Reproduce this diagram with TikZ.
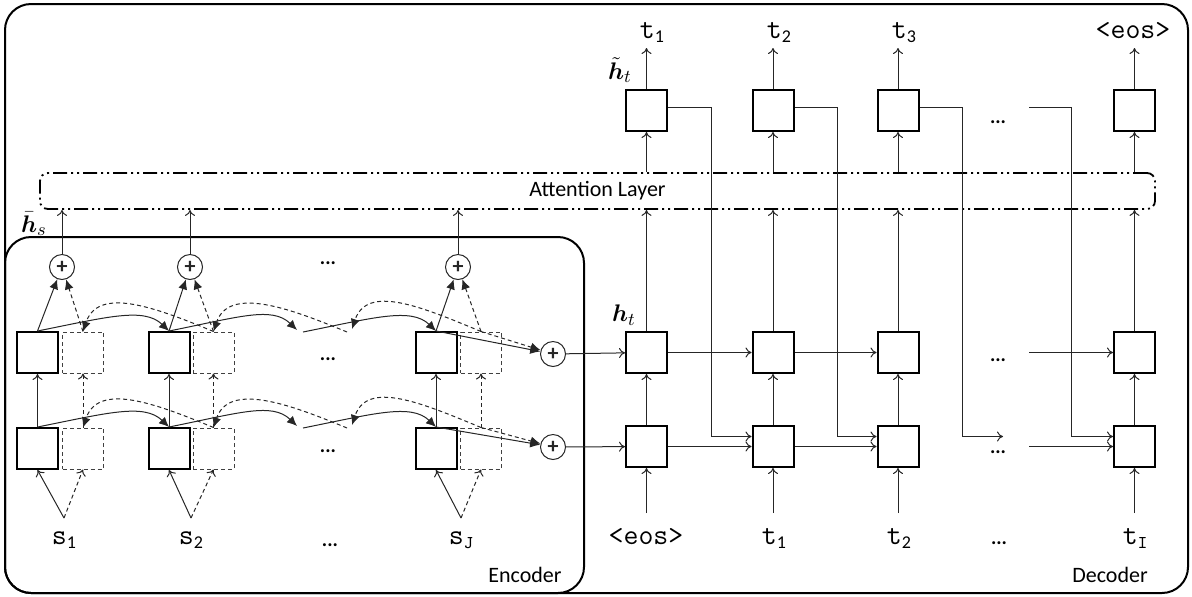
\documentclass[tikz,border=0pt]{standalone}
\usepackage{amsmath}
\usepackage{fontspec}
\usepackage{tikz}
\usetikzlibrary{arrows.meta,calc}

\newfontfamily\sflabel{Carlito}
\newcommand{\wordtok}[2]{{\ttfamily\fontsize{14.5}{16}\selectfont #1}\raisebox{-0.5ex}{\fontsize{9}{10}\selectfont #2}}
\newcommand{\eostok}{{\ttfamily\fontsize{14.5}{16}\selectfont <eos>}}

\tikzset{
  frame/.style={line width=1pt, rounded corners=13pt},
  cell/.style={draw, line width=1pt, minimum size=20.5pt, inner sep=0pt},
  bcell/.style={draw, black!75, line width=0.5pt, dash pattern=on 2pt off 1.5pt, minimum size=20.5pt, inner sep=0pt},
  sumnode/.style={draw, circle, black!85, line width=0.5pt, minimum size=12.5pt, inner sep=0pt, font=\sflabel\bfseries\fontsize{11}{11}\selectfont},
  attn/.style={draw, line width=0.9pt, rounded corners=4pt, dash pattern=on 7pt off 2pt on 1pt off 2pt on 1pt off 2pt, minimum width=557.5pt, minimum height=18pt, font=\sflabel\fontsize{11}{13}\selectfont},
  link/.style={black!85, line width=0.5pt, -{To[length=3pt,width=5pt]}},
  dlink/.style={link, dash pattern=on 2pt off 1.5pt},
  fwd/.style={black!85, line width=0.5pt, -{Latex[length=5pt,width=4.5pt]}},
  bwd/.style={fwd, dash pattern=on 2pt off 1.5pt},
  toklabel/.style={inner sep=1pt, text height=8pt, text depth=2pt},
  srctok/.style={toklabel, outer ysep=4pt},
  intok/.style={toklabel, outer ysep=6.5pt},
  outtok/.style={toklabel, outer ysep=2pt},
  dots/.style={inner sep=0pt, font=\sflabel\bfseries\fontsize{10}{10}\selectfont},
  tag/.style={font=\sflabel\fontsize{11}{13}\selectfont},
  hlabel/.style={inner sep=0pt, font=\fontsize{13}{15}\selectfont}
}

\begin{document}
\begin{tikzpicture}[x=0.5pt, y=-0.5pt]
    \useasboundingbox (0,0) rectangle (1192,596);

    % Frames
    \draw[frame] (5,4) rectangle (1188,593);
    \draw[frame] (5,237) rectangle (584,593);
    \node[tag] (enctag) at (525,575) {Encoder};
    \node[tag] (dectag) at (1110,575) {Decoder};

    % Attention layer
    \node[attn] (attn) at (597.5,191) {Attention Layer};

    % Encoder cells
    \node[cell] (eu1) at (37.5,352.5) {};
    \node[bcell] (bu1) at (83,352.5) {};
    \node[cell] (eu2) at (169,352.5) {};
    \node[bcell] (bu2) at (213.5,352.5) {};
    \node[cell] (euJ) at (436,352.5) {};
    \node[bcell] (buJ) at (481,352.5) {};
    \node[cell] (el1) at (37.5,448.5) {};
    \node[bcell] (bl1) at (83,448.5) {};
    \node[cell] (el2) at (169,448.5) {};
    \node[bcell] (bl2) at (213.5,448.5) {};
    \node[cell] (elJ) at (436,448.5) {};
    \node[bcell] (blJ) at (481,448.5) {};

    % Sums
    \node[sumnode] (sum1) at (62,267) {+};
    \node[sumnode] (sum2) at (190,267) {+};
    \node[sumnode] (sumJ) at (458,267) {+};
    \node[sumnode] (sumU) at (553,354) {+};
    \node[sumnode] (sumL) at (553,447) {+};

    % Source words
    \node[srctok] (src1) at (64,538) {\wordtok{s}{\sflabel 1}};
    \node[srctok] (src2) at (191,538) {\wordtok{s}{\sflabel 2}};
    \node[srctok] (srcJ) at (461,538) {\wordtok{s}{\ttfamily J}};

    % Ellipses
    \node[dots] (edot1) at (328,263) {...};
    \node[dots] (edot2) at (328,359) {...};
    \node[dots] (edot3) at (328,451) {...};
    \node[dots] (edot4) at (330,545) {...};
    \node[dots] (ddot1) at (998,122) {...};
    \node[dots] (ddot2) at (998,360) {...};
    \node[dots] (ddot3) at (998,452) {...};
    \node[dots] (ddot4) at (999,543) {...};

    % Free ends
    \coordinate (fdU1) at (297,330);
    \coordinate (fdU2) at (303,332);
    \coordinate (bdU1) at (352,329);
    \coordinate (bdU2) at (347,332);
    \coordinate (fdL1) at (297,426);
    \coordinate (fdL2) at (303,428);
    \coordinate (bdL1) at (352,425);
    \coordinate (bdL2) at (347,428);
    \coordinate (rowU) at (1029,352.5);
    \coordinate (rowL) at (1029,446.5);
    \coordinate (fbEnd) at (1003,436.5);
    \coordinate (fbStart) at (1029,107.5);

    % Labels
    \node[hlabel] (hbar) at (34,224) {$\bar{\boldsymbol{h}}_s$};
    \node[hlabel] (htil) at (620,70) {$\tilde{\boldsymbol{h}}_t$};
    \node[hlabel] (hdec) at (624,315) {$\boldsymbol{h}_t$};

    % Encoder forward arrows
    \draw[fwd] (eu1.north) .. controls +(70,-14) and +(-25,-24) .. (eu2.north);
    \draw[fwd] (eu2.north) .. controls +(70,-14) and +(-25,-24) .. (fdU1);
    \draw[fwd] (fdU2) .. controls +(70,-14) and +(-25,-24) .. (euJ.north);
    \draw[fwd] (el1.north) .. controls +(70,-14) and +(-25,-24) .. (el2.north);
    \draw[fwd] (el2.north) .. controls +(70,-14) and +(-25,-24) .. (fdL1);
    \draw[fwd] (fdL2) .. controls +(70,-14) and +(-25,-24) .. (elJ.north);

    % Encoder backward arrows
    \draw[bwd] (buJ.north) .. controls +(-60,-25) and +(15,-45) .. (bdU1);
    \draw[bwd] (bdU2) .. controls +(-60,-25) and +(15,-45) .. (bu2.north);
    \draw[bwd] (bu2.north) .. controls +(-60,-25) and +(15,-45) .. (bu1.north);
    \draw[bwd] (blJ.north) .. controls +(-60,-25) and +(15,-45) .. (bdL1);
    \draw[bwd] (bdL2) .. controls +(-60,-25) and +(15,-45) .. (bl2.north);
    \draw[bwd] (bl2.north) .. controls +(-60,-25) and +(15,-45) .. (bl1.north);

    % Encoder into sums
    \draw[fwd] (eu1.north) -- (sum1);
    \draw[bwd] (bu1.north) -- (sum1);
    \draw[fwd] (eu2.north) -- (sum2);
    \draw[bwd] (bu2.north) -- (sum2);
    \draw[fwd] (euJ.north) -- (sumJ);
    \draw[bwd] (buJ.north) -- (sumJ);
    \draw[fwd] (euJ.north) -- (sumU);
    \draw[bwd] (buJ.north) -- (sumU);
    \draw[fwd] (elJ.north) -- (sumL);
    \draw[bwd] (blJ.north) -- (sumL);

    % Encoder vertical arrows
    \draw[link] (el1) -- (eu1);
    \draw[dlink] (bl1) -- (bu1);
    \draw[link] (el2) -- (eu2);
    \draw[dlink] (bl2) -- (bu2);
    \draw[link] (elJ) -- (euJ);
    \draw[dlink] (blJ) -- (buJ);
    \draw[link] (src1.north) -- (el1.south);
    \draw[dlink] (src1.north) -- (bl1.south);
    \draw[link] (src2.north) -- (el2.south);
    \draw[dlink] (src2.north) -- (bl2.south);
    \draw[link] (srcJ.north) -- (elJ.south);
    \draw[dlink] (srcJ.north) -- (blJ.south);
    \draw[link] (sum1) -- (sum1 |- attn.south);
    \draw[link] (sum2) -- (sum2 |- attn.south);
    \draw[link] (sumJ) -- (sumJ |- attn.south);

    % Decoder cells
    \node[cell] (dl1) at (646.5,446.5) {};
    \node[cell] (dl2) at (773,446.5) {};
    \node[cell] (dl3) at (898,446.5) {};
    \node[cell] (dlI) at (1134.5,446.5) {};
    \node[cell] (du1) at (646.5,352.5) {};
    \node[cell] (du2) at (773,352.5) {};
    \node[cell] (du3) at (898,352.5) {};
    \node[cell] (duI) at (1134.5,352.5) {};
    \node[cell] (att1) at (646.5,110.5) {};
    \node[cell] (att2) at (773,110.5) {};
    \node[cell] (att3) at (898,110.5) {};
    \node[cell] (attI) at (1134.5,110.5) {};

    % Decoder words
    \node[intok] (in0) at (646,538) {\eostok};
    \node[intok] (in1) at (774,538) {\wordtok{t}{\sflabel 1}};
    \node[intok] (in2) at (899,538) {\wordtok{t}{\sflabel 2}};
    \node[intok] (inI) at (1135,538) {\wordtok{t}{\ttfamily I}};
    \node[outtok] (out1) at (652,32) {\wordtok{t}{\sflabel 1}};
    \node[outtok] (out2) at (779,32) {\wordtok{t}{\sflabel 2}};
    \node[outtok] (out3) at (904,32) {\wordtok{t}{\sflabel 3}};
    \node[outtok] (outE) at (1133,32) {\eostok};

    % Decoder recurrence
    \draw[link] (sumU) -- (du1);
    \draw[link] (sumL) -- (dl1);
    \draw[link] (du1) -- (du2);
    \draw[link] (du2) -- (du3);
    \draw[link] (rowU) -- (duI);
    \draw[link] (dl1) -- (dl2);
    \draw[link] (dl2) -- (dl3);
    \draw[link] (rowL) -- (dlI);

    % Decoder vertical arrows
    \draw[link] (in0.north -| dl1) -- (dl1);
    \draw[link] (in1.north -| dl2) -- (dl2);
    \draw[link] (in2.north -| dl3) -- (dl3);
    \draw[link] (inI.north -| dlI) -- (dlI);
    \draw[link] (dl1) -- (du1);
    \draw[link] (dl2) -- (du2);
    \draw[link] (dl3) -- (du3);
    \draw[link] (dlI) -- (duI);
    \draw[link] (du1) -- (du1 |- attn.south);
    \draw[link] (du2) -- (du2 |- attn.south);
    \draw[link] (du3) -- (du3 |- attn.south);
    \draw[link] (duI) -- (duI |- attn.south);
    \draw[link] (att1 |- attn.north) -- (att1);
    \draw[link] (att2 |- attn.north) -- (att2);
    \draw[link] (att3 |- attn.north) -- (att3);
    \draw[link] (attI |- attn.north) -- (attI);
    \draw[link] (att1) -- (att1 |- out1.south);
    \draw[link] (att2) -- (att2 |- out2.south);
    \draw[link] (att3) -- (att3 |- out3.south);
    \draw[link] (attI) -- (attI |- outE.south);

    % Input feeding
    \draw[link] ([yshift=1.5pt]att1.east) -- ++(43,0) |- ([yshift=5pt]dl2.west);
    \draw[link] ([yshift=1.5pt]att2.east) -- ++(43,0) |- ([yshift=5pt]dl3.west);
    \draw[link] ([yshift=1.5pt]att3.east) -- ++(43,0) |- (fbEnd);
    \draw[link] (fbStart) -- ++(42,0) |- ([yshift=5pt]dlI.west);
\end{tikzpicture}
\end{document}
